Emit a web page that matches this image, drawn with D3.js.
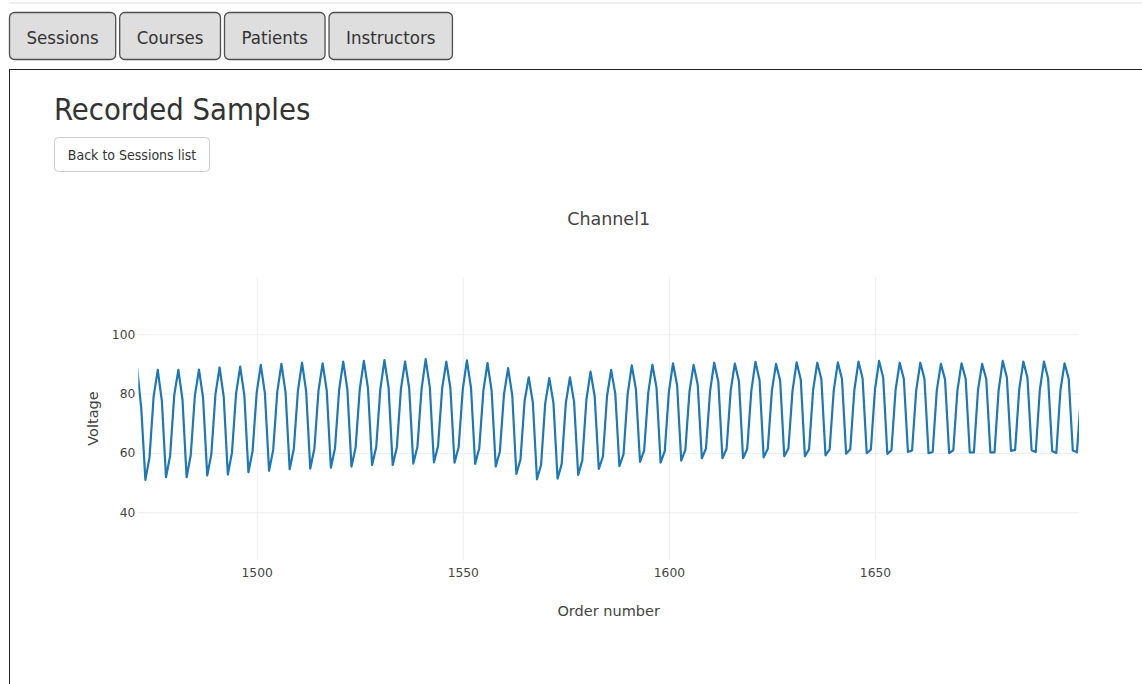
<!DOCTYPE html>
<html>
<head>
<meta charset="utf-8">
<title>Recorded Samples</title>
<script src="https://cdn.jsdelivr.net/npm/d3@7"></script>
<style>
  body { margin: 0; background: #fff; }
  svg { display: block; }
</style>
</head>
<body>
<svg id="page" width="1142" height="684"></svg>
<script>
// ---- page text ----
const navTabs = ["Sessions", "Courses", "Patients", "Instructors"];
const pageTitle = "Recorded Samples";
const backLabel = "Back to Sessions list";
const chartTitle = "Channel1";
const xAxisTitle = "Order number";
const yAxisTitle = "Voltage";

// ---- axes ----
const xTicks = [1500, 1550, 1600, 1650];
const yTicks = [40, 60, 80, 100];
const xRange = [1471.28, 1699.5];
const yRange = [23.9, 119.3];

// ---- samples: order numbers start at firstOrder, one voltage per order number ----
const firstOrder = 1471;
const voltage = [
  88.5, 75.0, 50.9, 58.5, 79.0,
  88.0, 77.5, 51.8, 59.0, 79.5,
  88.0, 78.0, 51.8, 59.2, 79.2,
  88.1, 78.5, 52.4, 59.6, 79.8,
  88.8, 79.0, 52.7, 60.0, 80.0,
  89.1, 79.5, 53.5, 60.6, 80.3,
  89.7, 80.0, 54.0, 61.0, 80.6,
  90.0, 80.5, 54.5, 61.3, 80.8,
  90.4, 80.8, 54.7, 61.5, 81.0,
  90.2, 81.0, 55.0, 61.6, 81.2,
  90.8, 81.4, 55.4, 61.8, 81.3,
  91.0, 81.8, 55.9, 62.0, 81.5,
  91.3, 82.0, 55.9, 61.8, 81.6,
  90.8, 81.8, 56.4, 62.1, 81.5,
  91.6, 82.2, 56.8, 62.3, 81.7,
  90.8, 81.8, 56.7, 62.0, 81.4,
  91.2, 81.9, 56.3, 61.6, 81.0,
  90.3, 81.0, 55.4, 60.5, 79.8,
  88.6, 79.5, 52.9, 57.8, 77.5,
  85.5, 77.0, 51.1, 56.0, 76.7,
  85.2, 76.8, 51.3, 56.3, 76.8,
  85.5, 77.3, 52.6, 57.5, 78.0,
  87.4, 79.0, 54.6, 58.8, 79.2,
  88.0, 80.0, 55.5, 59.6, 79.8,
  89.5, 81.5, 57.0, 60.8, 80.3,
  89.7, 82.0, 56.7, 60.6, 80.5,
  90.2, 82.8, 57.4, 61.0, 80.7,
  89.7, 83.0, 58.2, 61.5, 80.8,
  90.4, 84.0, 58.2, 61.4, 81.0,
  90.1, 84.2, 58.2, 61.3, 80.9,
  90.7, 84.5, 58.5, 61.4, 81.1,
  90.0, 84.4, 58.9, 61.5, 81.0,
  90.5, 84.7, 58.9, 61.2, 81.2,
  90.4, 84.8, 59.2, 61.2, 81.1,
  90.5, 84.9, 59.7, 61.2, 81.2,
  90.8, 85.1, 59.9, 61.1, 81.3,
  91.0, 85.3, 59.7, 60.9, 81.2,
  90.4, 85.0, 60.3, 60.8, 81.0,
  90.4, 85.0, 59.9, 60.3, 81.1,
  90.0, 84.8, 59.9, 60.9, 81.0,
  90.2, 85.0, 60.2, 60.2, 81.2,
  90.0, 84.9, 60.2, 60.2, 81.1,
  91.0, 85.4, 60.7, 61.0, 81.4,
  90.8, 85.3, 60.9, 60.3, 81.3,
  90.8, 85.2, 60.6, 60.0, 81.2,
  90.2, 85.0, 60.8, 60.2, 80.0
];

const samples = voltage.map((v, i) => ({ order: firstOrder + i, v }));

const uiFont = "'DejaVu Sans Condensed', 'DejaVu Sans', sans-serif";
const plotFont = "'DejaVu Sans', Verdana, sans-serif";

const svg = d3.select("#page");

// thin rule at the very top of the page
svg.append("rect").attr("x", 9).attr("y", 2).attr("width", 1133).attr("height", 2).attr("fill", "#efefef");

// ---- navigation tabs ----
const tabs = svg.append("g").attr("class", "tabs");
let tabX = 9.5;
navTabs.forEach(label => {
  const g = tabs.append("g");
  const rect = g.append("rect")
    .attr("y", 12.5).attr("height", 47).attr("rx", 5)
    .attr("fill", "#dedede").attr("stroke", "#4f4f4f").attr("stroke-width", 1.3);
  const t = g.append("text")
    .attr("y", 43.5)
    .attr("font-family", uiFont).attr("font-size", 18.5).attr("fill", "#333")
    .attr("text-anchor", "middle")
    .text(label);
  const w = t.node().getComputedTextLength() + 34;
  rect.attr("x", tabX).attr("width", w);
  t.attr("x", tabX + w / 2);
  tabX += w + 4;
});

// ---- content panel ----
svg.append("rect")
  .attr("x", 9.5).attr("y", 69.5).attr("width", 1200).attr("height", 700)
  .attr("fill", "none").attr("stroke", "#222").attr("stroke-width", 1);

svg.append("text")
  .attr("x", 54).attr("y", 120)
  .attr("font-family", uiFont).attr("font-size", 30.7).attr("fill", "#333")
  .text(pageTitle);

const back = svg.append("g");
back.append("rect")
  .attr("x", 54.5).attr("y", 137.5).attr("width", 155).attr("height", 34).attr("rx", 4)
  .attr("fill", "#fff").attr("stroke", "#ccc");
back.append("text")
  .attr("x", 54.5 + 155 / 2).attr("y", 159.5).attr("text-anchor", "middle")
  .attr("font-family", uiFont).attr("font-size", 14).attr("fill", "#333")
  .text(backLabel);

// ---- chart ----
const plot = { left: 138.3, right: 1079, top: 277, bottom: 560 };

const x = d3.scaleLinear().domain(xRange).range([plot.left, plot.right]);
const y = d3.scaleLinear().domain(yRange).range([plot.bottom, plot.top]);

svg.append("defs").append("clipPath").attr("id", "plot-clip")
  .append("rect")
  .attr("x", plot.left).attr("y", plot.top)
  .attr("width", plot.right - plot.left).attr("height", plot.bottom - plot.top);

// grid lines
const xGrid = svg.append("g")
  .attr("transform", `translate(0,${plot.bottom})`)
  .call(d3.axisBottom(x).tickValues(xTicks).tickSize(-(plot.bottom - plot.top)).tickFormat(""));
xGrid.select(".domain").remove();
xGrid.selectAll("line").attr("stroke", "#eee").attr("stroke-width", 1);

const yGrid = svg.append("g")
  .attr("transform", `translate(${plot.left},0)`)
  .call(d3.axisLeft(y).tickValues(yTicks).tickSize(-(plot.right - plot.left)).tickFormat(""));
yGrid.select(".domain").remove();
yGrid.selectAll("line").attr("stroke", "#eee").attr("stroke-width", 1);

// tick labels
const xAxis = svg.append("g")
  .attr("transform", `translate(0,${plot.bottom})`)
  .call(d3.axisBottom(x).tickValues(xTicks).tickSize(0).tickPadding(8).tickFormat(d3.format("d")));
xAxis.select(".domain").remove();
xAxis.selectAll("text").attr("font-family", plotFont).attr("font-size", 12.3).attr("fill", "#444");

const yAxis = svg.append("g")
  .attr("transform", `translate(${plot.left},0)`)
  .call(d3.axisLeft(y).tickValues(yTicks).tickSize(0).tickPadding(3).tickFormat(d3.format("d")));
yAxis.select(".domain").remove();
yAxis.selectAll("text").attr("font-family", plotFont).attr("font-size", 12.3).attr("fill", "#444");

// the voltage trace
const line = d3.line().x(d => x(d.order)).y(d => y(d.v));
svg.append("path")
  .datum(samples)
  .attr("clip-path", "url(#plot-clip)")
  .attr("fill", "none")
  .attr("stroke", "#1f77b4")
  .attr("stroke-width", 2.2)
  .attr("stroke-linejoin", "round")
  .attr("d", line);

// titles
svg.append("text")
  .attr("x", (plot.left + plot.right) / 2).attr("y", 225)
  .attr("text-anchor", "middle")
  .attr("font-family", plotFont).attr("font-size", 17.5).attr("fill", "#444")
  .text(chartTitle);

svg.append("text")
  .attr("x", (plot.left + plot.right) / 2).attr("y", 616)
  .attr("text-anchor", "middle")
  .attr("font-family", plotFont).attr("font-size", 14.5).attr("fill", "#444")
  .text(xAxisTitle);

svg.append("text")
  .attr("transform", `translate(98,${(plot.top + plot.bottom) / 2}) rotate(-90)`)
  .attr("text-anchor", "middle")
  .attr("font-family", plotFont).attr("font-size", 14.5).attr("fill", "#444")
  .text(yAxisTitle);
</script>
</body>
</html>
